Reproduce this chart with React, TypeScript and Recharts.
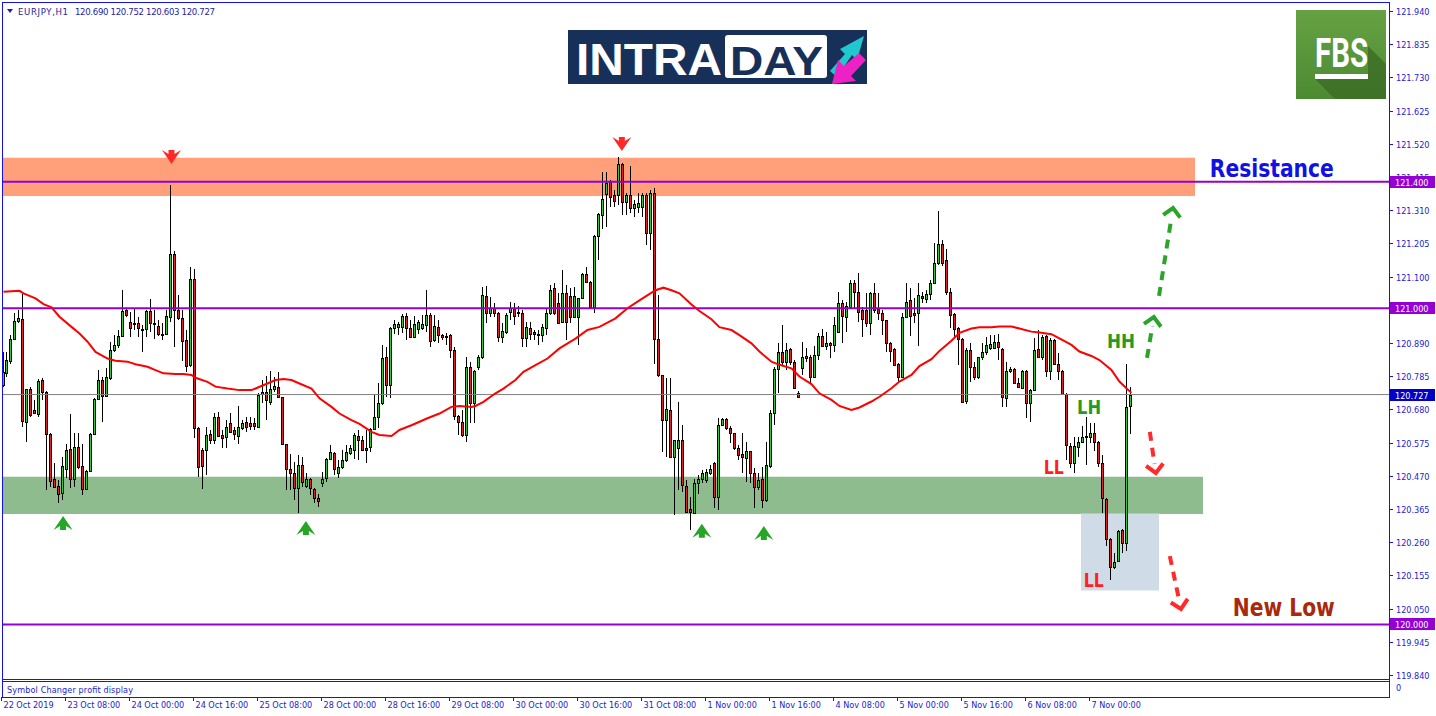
import React from 'react';
import {
  ComposedChart, Bar, Line, XAxis, YAxis,
  ReferenceLine, ReferenceArea, ReferenceDot,
} from 'recharts';

// EURJPY H1 bars, 22 Oct 16:00 .. 7 Nov 10:00 (bar index 0..282)
const opens = [
  120.757, 120.796, 120.834, 120.904, 120.959, 120.965, 120.641, 120.744, 120.678, 120.667,
  120.773, 120.734, 120.602, 120.459, 120.438, 120.416, 120.493, 120.554, 120.459, 120.560,
  120.501, 120.427, 120.486, 120.602, 120.712, 120.773, 120.723, 120.780, 120.868, 120.883,
  120.913, 120.994, 120.955, 120.954, 120.954, 120.934, 120.933, 120.991, 120.952, 120.945,
  120.920, 120.920, 120.973, 121.170, 120.994, 120.968, 120.901, 120.820, 121.091, 120.620,
  120.551, 120.553, 120.601, 120.583, 120.655, 120.599, 120.594, 120.638, 120.615, 120.597,
  120.622, 120.641, 120.636, 120.636, 120.625, 120.734, 120.734, 120.704, 120.743, 120.752,
  120.718, 120.572, 120.493, 120.480, 120.433, 120.504, 120.438, 120.459, 120.427, 120.399,
  120.446, 120.462, 120.522, 120.543, 120.478, 120.497, 120.520, 120.543, 120.553, 120.596,
  120.583, 120.557, 120.560, 120.617, 120.655, 120.699, 120.846, 120.757, 120.936, 120.941,
  120.941, 120.975, 120.936, 120.910, 120.933, 120.936, 120.947, 120.978, 120.899, 120.941,
  120.915, 120.913, 120.915, 120.868, 120.659, 120.641, 120.599, 120.813, 120.699, 120.815,
  120.846, 121.039, 120.986, 121.000, 120.986, 120.910, 120.926, 120.989, 120.996, 120.989,
  120.986, 120.907, 120.939, 120.926, 120.920, 120.915, 120.939, 120.984, 121.063, 121.015,
  120.957, 121.049, 121.039, 120.971, 120.973, 121.033, 121.108, 121.084, 121.005, 121.228,
  121.294, 121.360, 121.400, 121.358, 121.358, 121.456, 121.337, 121.358, 121.316, 121.319,
  121.319, 121.358, 121.237, 121.365, 120.904, 120.789, 120.646, 120.678, 120.530, 120.557,
  120.583, 120.438, 120.364, 120.353, 120.446, 120.459, 120.457, 120.480, 120.509, 120.402,
  120.631, 120.649, 120.620, 120.605, 120.557, 120.539, 120.525, 120.547, 120.478, 120.436,
  120.459, 120.392, 120.501, 120.668, 120.807, 120.863, 120.831, 120.870, 120.831, 120.733,
  120.810, 120.842, 120.847, 120.781, 120.852, 120.912, 120.881, 120.889, 120.884, 120.926,
  121.016, 120.973, 121.005, 121.079, 121.052, 120.994, 120.994, 120.952, 121.047, 120.997,
  120.984, 120.963, 120.889, 120.870, 120.823, 120.784, 120.971, 121.026, 120.984, 120.984,
  121.039, 121.029, 121.044, 121.079, 121.142, 121.203, 121.153, 121.052, 120.981, 120.936,
  120.902, 120.708, 120.868, 120.813, 120.784, 120.845, 120.860, 120.873, 120.875, 120.892,
  120.871, 120.715, 120.800, 120.808, 120.765, 120.747, 120.800, 120.701, 120.741, 120.870,
  120.847, 120.912, 120.800, 120.900, 120.824, 120.800, 120.729, 120.565, 120.512, 120.562,
  120.576, 120.592, 120.592, 120.605, 120.576, 120.512, 120.396, 120.269, 120.181, 120.202,
  120.299, 120.259, 120.690,
];

const highs = [
  120.862, 120.862, 120.915, 120.984, 120.994, 121.044, 120.746, 120.750, 120.710, 120.775,
  120.778, 120.739, 120.604, 120.512, 120.457, 120.530, 120.572, 120.667, 120.604, 120.606,
  120.572, 120.488, 120.604, 120.715, 120.806, 120.783, 120.810, 120.894, 120.915, 120.931,
  121.057, 121.000, 120.989, 120.996, 120.973, 120.947, 120.994, 121.029, 120.994, 120.962,
  120.952, 120.994, 121.389, 121.181, 121.042, 120.994, 120.931, 121.131, 121.123, 120.625,
  120.557, 120.625, 120.615, 120.669, 120.673, 120.615, 120.646, 120.669, 120.625, 120.691,
  120.646, 120.657, 120.657, 120.652, 120.731, 120.773, 120.785, 120.802, 120.783, 120.799,
  120.718, 120.572, 120.539, 120.514, 120.536, 120.530, 120.478, 120.462, 120.430, 120.414,
  120.483, 120.525, 120.567, 120.546, 120.520, 120.551, 120.567, 120.567, 120.604, 120.615,
  120.596, 120.615, 120.620, 120.725, 120.762, 120.883, 120.878, 120.941, 120.962, 120.957,
  120.981, 120.986, 120.962, 120.975, 120.962, 120.978, 121.059, 120.984, 120.978, 120.962,
  120.920, 120.922, 120.920, 120.876, 120.662, 120.678, 120.847, 120.830, 120.804, 120.852,
  121.068, 121.070, 121.036, 121.015, 120.989, 120.952, 120.984, 121.020, 121.015, 121.007,
  120.994, 120.957, 120.957, 120.931, 120.931, 120.950, 120.996, 121.073, 121.080, 121.047,
  121.121, 121.073, 121.063, 121.068, 121.033, 121.112, 121.131, 121.086, 121.231, 121.300,
  121.431, 121.431, 121.405, 121.374, 121.477, 121.460, 121.363, 121.449, 121.342, 121.363,
  121.363, 121.363, 121.374, 121.379, 121.042, 120.789, 120.778, 120.778, 120.583, 120.704,
  120.630, 120.457, 120.404, 120.459, 120.472, 120.488, 120.493, 120.504, 120.514, 120.652,
  120.652, 120.652, 120.626, 120.605, 120.568, 120.605, 120.578, 120.547, 120.494, 120.478,
  120.499, 120.578, 120.678, 120.815, 120.889, 120.947, 120.889, 120.873, 120.836, 120.739,
  120.894, 120.873, 120.852, 120.881, 120.921, 120.933, 120.926, 120.894, 120.973, 121.052,
  121.026, 121.021, 121.089, 121.089, 121.110, 121.005, 121.049, 121.052, 121.081, 121.047,
  120.994, 120.963, 120.894, 120.873, 120.826, 120.984, 121.079, 121.063, 121.031, 121.079,
  121.052, 121.058, 121.089, 121.205, 121.307, 121.216, 121.186, 121.063, 120.986, 120.942,
  120.905, 120.873, 120.889, 120.831, 120.847, 120.891, 120.910, 120.915, 120.915, 120.918,
  120.873, 120.831, 120.815, 120.810, 120.778, 120.805, 120.805, 120.744, 120.905, 120.931,
  120.915, 120.915, 120.905, 120.902, 120.857, 120.805, 120.731, 120.573, 120.594, 120.594,
  120.629, 120.655, 120.636, 120.636, 120.581, 120.536, 120.399, 120.273, 120.225, 120.299,
  120.301, 120.824, 120.752,
];

const lows = [
  120.750, 120.783, 120.825, 120.899, 120.952, 120.625, 120.578, 120.657, 120.667, 120.657,
  120.710, 120.425, 120.435, 120.430, 120.385, 120.395, 120.462, 120.430, 120.435, 120.493,
  120.409, 120.425, 120.483, 120.599, 120.710, 120.641, 120.720, 120.773, 120.862, 120.873,
  120.910, 120.973, 120.910, 120.931, 120.910, 120.862, 120.910, 120.926, 120.904, 120.912,
  120.899, 120.915, 120.957, 120.878, 120.962, 120.834, 120.799, 120.815, 120.588, 120.467,
  120.427, 120.472, 120.572, 120.572, 120.594, 120.557, 120.557, 120.604, 120.583, 120.572,
  120.615, 120.609, 120.615, 120.615, 120.620, 120.699, 120.646, 120.694, 120.736, 120.715,
  120.567, 120.425, 120.425, 120.393, 120.351, 120.435, 120.433, 120.409, 120.383, 120.370,
  120.435, 120.451, 120.520, 120.472, 120.462, 120.490, 120.514, 120.536, 120.522, 120.520,
  120.553, 120.509, 120.546, 120.615, 120.620, 120.694, 120.720, 120.715, 120.920, 120.915,
  120.922, 120.899, 120.910, 120.908, 120.920, 120.931, 120.926, 120.876, 120.894, 120.889,
  120.899, 120.883, 120.844, 120.646, 120.599, 120.594, 120.578, 120.636, 120.636, 120.804,
  120.841, 120.952, 120.973, 120.973, 120.894, 120.891, 120.920, 120.962, 120.946, 120.973,
  120.878, 120.878, 120.899, 120.899, 120.883, 120.894, 120.915, 120.978, 120.978, 120.954,
  120.954, 120.899, 120.952, 120.968, 120.883, 121.031, 121.080, 121.000, 120.986, 121.152,
  121.252, 121.258, 121.321, 121.321, 121.326, 121.294, 121.294, 121.300, 121.289, 121.300,
  121.289, 121.200, 121.184, 120.825, 120.783, 120.546, 120.530, 120.525, 120.346, 120.425,
  120.420, 120.356, 120.298, 120.349, 120.414, 120.446, 120.446, 120.472, 120.367, 120.362,
  120.626, 120.615, 120.573, 120.552, 120.520, 120.478, 120.452, 120.446, 120.367, 120.425,
  120.367, 120.388, 120.494, 120.631, 120.731, 120.821, 120.805, 120.821, 120.743, 120.720,
  120.789, 120.831, 120.763, 120.778, 120.836, 120.879, 120.868, 120.842, 120.863, 120.923,
  120.889, 120.926, 121.000, 121.000, 120.958, 120.910, 120.942, 120.915, 120.984, 120.963,
  120.915, 120.863, 120.831, 120.821, 120.768, 120.781, 120.968, 120.912, 120.952, 120.881,
  121.016, 121.016, 121.026, 121.077, 121.137, 121.134, 121.042, 120.937, 120.905, 120.821,
  120.702, 120.697, 120.768, 120.773, 120.775, 120.836, 120.852, 120.868, 120.873, 120.836,
  120.689, 120.689, 120.794, 120.760, 120.747, 120.744, 120.652, 120.641, 120.739, 120.847,
  120.836, 120.784, 120.773, 120.820, 120.773, 120.726, 120.520, 120.494, 120.480, 120.531,
  120.573, 120.504, 120.573, 120.547, 120.499, 120.351, 120.248, 120.141, 120.174, 120.199,
  120.227, 120.233, 120.603,
];

const closes = [
  120.799, 120.836, 120.904, 120.959, 120.968, 120.644, 120.746, 120.662, 120.670, 120.771,
  120.734, 120.603, 120.454, 120.435, 120.414, 120.501, 120.551, 120.459, 120.560, 120.499,
  120.427, 120.486, 120.602, 120.712, 120.773, 120.723, 120.783, 120.868, 120.883, 120.912,
  120.991, 120.980, 120.938, 120.950, 120.936, 120.931, 120.991, 120.952, 120.949, 120.917,
  120.917, 120.975, 121.170, 120.994, 120.968, 120.897, 120.817, 121.091, 120.620, 120.499,
  120.501, 120.599, 120.583, 120.657, 120.596, 120.591, 120.625, 120.609, 120.601, 120.623,
  120.638, 120.625, 120.629, 120.629, 120.727, 120.728, 120.710, 120.743, 120.754, 120.718,
  120.570, 120.493, 120.478, 120.433, 120.504, 120.451, 120.459, 120.430, 120.399, 120.391,
  120.459, 120.522, 120.544, 120.493, 120.497, 120.520, 120.544, 120.557, 120.599, 120.583,
  120.553, 120.553, 120.617, 120.655, 120.699, 120.844, 120.757, 120.936, 120.950, 120.950,
  120.976, 120.936, 120.910, 120.950, 120.957, 120.950, 120.978, 120.897, 120.943, 120.915,
  120.910, 120.910, 120.868, 120.659, 120.641, 120.599, 120.813, 120.699, 120.802, 120.846,
  121.042, 120.984, 121.000, 120.986, 120.910, 120.928, 120.978, 121.000, 120.976, 120.984,
  120.907, 120.941, 120.920, 120.920, 120.915, 120.941, 120.984, 121.059, 120.984, 120.954,
  121.047, 120.957, 120.973, 121.039, 121.033, 121.108, 121.084, 121.003, 121.228, 121.297,
  121.344, 121.397, 121.352, 121.340, 121.456, 121.337, 121.358, 121.316, 121.331, 121.333,
  121.358, 121.237, 121.365, 120.904, 120.789, 120.646, 120.680, 120.530, 120.583, 120.583,
  120.441, 120.356, 120.356, 120.446, 120.459, 120.478, 120.483, 120.493, 120.404, 120.631,
  120.649, 120.620, 120.605, 120.557, 120.536, 120.531, 120.547, 120.478, 120.436, 120.457,
  120.392, 120.504, 120.668, 120.807, 120.863, 120.831, 120.868, 120.831, 120.747, 120.720,
  120.847, 120.849, 120.781, 120.852, 120.912, 120.882, 120.889, 120.884, 120.947, 121.018,
  120.975, 121.007, 121.079, 121.050, 120.989, 120.965, 120.954, 121.047, 120.994, 120.986,
  120.963, 120.889, 120.865, 120.821, 120.784, 120.971, 121.021, 120.975, 120.979, 121.042,
  121.031, 121.044, 121.079, 121.142, 121.203, 121.142, 121.052, 120.979, 120.934, 120.902,
  120.705, 120.868, 120.813, 120.784, 120.847, 120.861, 120.884, 120.886, 120.894, 120.876,
  120.720, 120.801, 120.807, 120.763, 120.750, 120.802, 120.701, 120.741, 120.868, 120.847,
  120.910, 120.803, 120.900, 120.824, 120.800, 120.729, 120.568, 120.512, 120.565, 120.576,
  120.594, 120.596, 120.605, 120.576, 120.512, 120.399, 120.269, 120.181, 120.199, 120.297,
  120.259, 120.689, 120.727,
];

// moving average (red) at these bars
const maBars = [
  0, 4, 5, 8, 10, 12, 14, 17, 19, 21, 23, 26, 28, 31, 33, 36, 38, 40, 43, 45,
  47, 48, 51, 53, 56, 59, 62, 63, 66, 68, 70, 72, 74, 77, 79, 82, 84, 87, 89, 92,
  94, 97, 99, 102, 106, 109, 112, 114, 117, 118, 120, 123, 125, 128, 130, 133, 136, 139, 143, 146,
  149, 153, 156, 159, 163, 165, 167, 169, 172, 174, 177, 179, 182, 184, 187, 189, 192, 194, 197, 199,
  202, 204, 207, 209, 212, 214, 217, 219, 222, 224, 227, 229, 232, 234, 237, 239, 242, 244, 247, 249,
  252, 254, 257, 259, 262, 264, 267, 269, 272, 274, 277, 279, 281, 282,
];
const maLevels = [
  121.052, 121.055, 121.047, 121.031, 121.013, 121.003, 120.973, 120.941, 120.920, 120.894,
  120.862, 120.841, 120.834, 120.831, 120.823, 120.815, 120.804, 120.794, 120.792, 120.792,
  120.789, 120.780, 120.767, 120.752, 120.746, 120.741, 120.741, 120.746, 120.762, 120.773,
  120.776, 120.773, 120.762, 120.746, 120.715, 120.688, 120.667, 120.646, 120.634, 120.609,
  120.599, 120.596, 120.615, 120.630, 120.652, 120.667, 120.688, 120.691, 120.688, 120.691,
  120.704, 120.731, 120.746, 120.773, 120.799, 120.820, 120.841, 120.873, 120.904, 120.931,
  120.941, 120.968, 121.000, 121.025, 121.057, 121.065, 121.057, 121.047, 121.012, 120.991,
  120.965, 120.940, 120.931, 120.915, 120.889, 120.863, 120.831, 120.821, 120.810, 120.784,
  120.760, 120.731, 120.710, 120.691, 120.678, 120.686, 120.705, 120.720, 120.747, 120.768,
  120.789, 120.817, 120.839, 120.865, 120.897, 120.922, 120.936, 120.940, 120.940, 120.942,
  120.942, 120.936, 120.926, 120.923, 120.918, 120.905, 120.884, 120.863, 120.849, 120.836,
  120.805, 120.768, 120.744, 120.733,
];

const timeTickBars = [0, 16, 32, 48, 64, 80, 96, 112, 128, 144, 160, 176, 192, 208, 224, 240, 256, 272];
const timeTickLabels = [
  '22 Oct 2019', '23 Oct 08:00', '24 Oct 00:00', '24 Oct 16:00', '25 Oct 08:00', '28 Oct 00:00',
  '28 Oct 16:00', '29 Oct 08:00', '30 Oct 00:00', '30 Oct 16:00', '31 Oct 08:00', '1 Nov 00:00',
  '1 Nov 16:00', '4 Nov 08:00', '5 Nov 00:00', '5 Nov 16:00', '6 Nov 08:00', '7 Nov 00:00',
];

const priceTicks = [
  121.94, 121.835, 121.73, 121.625, 121.52, 121.415, 121.31, 121.205, 121.1, 120.995, 120.89,
  120.785, 120.68, 120.575, 120.47, 120.365, 120.26, 120.155, 120.05, 119.945, 119.84,
];
const levelPrices = [121.4, 121.0, 120.0];
const lastPrice = 120.727;

const resistanceZone = [121.355, 121.476];
const supportZone = [120.349, 120.467];
const breakBox = [120.107, 120.351];

const upMarkBars = [14.9, 75.6, 174.6, 190.1];
const upMarkPrices = [120.321, 120.305, 120.296, 120.289];
const downMarkBars = [42, 154.6];
const downMarkPrices = [121.478, 121.519];

const X_MIN = -0.125;
const X_MAX = 346.4;
const Y_MIN = 119.8274;
const Y_MAX = 121.9653;

const FRAME = '#1212ee';
const AXIS_TEXT = '#1c1cd0';
const AXIS_FONT = "'DejaVu Sans Condensed', 'DejaVu Sans', sans-serif";
const NOTE_FONT = "'DejaVu Sans', sans-serif";
const BULL = '#2fcd2f';
const BEAR = '#e52222';
const PURPLE = '#9400d3';
const GREEN_NOTE = '#239c23';
const RED_NOTE = '#ff1f1f';

const maByBar = new Map(maBars.map((b, k) => [b, maLevels[k]]));
const rows = opens.map((open, i) => ({
  bar: i,
  open,
  high: highs[i],
  low: lows[i],
  close: closes[i],
  ma: maByBar.has(i) ? maByBar.get(i) : null,
}));

const notes = [
  { text: 'Resistance', bar: 317.1, price: 121.443, color: '#1111e6', size: 24, width: 124 },
  { text: 'New Low', bar: 320.1, price: 120.055, color: '#a8290c', size: 24, width: 102 },
  { text: 'HH', bar: 279.4, price: 120.896, color: GREEN_NOTE, size: 20, width: 28 },
  { text: 'LH', bar: 271.4, price: 120.688, color: GREEN_NOTE, size: 20, width: 24 },
  { text: 'LL', bar: 262.6, price: 120.498, color: RED_NOTE, size: 20, width: 20 },
  { text: 'LL', bar: 272.6, price: 120.141, color: RED_NOTE, size: 20, width: 20 },
];

const dashedArrows = [
  { from: [288.9, 121.039], to: [292.4, 121.317], color: '#2aa52a' },
  { from: [285.9, 120.843], to: [287.6, 120.972], color: '#2aa52a' },
  { from: [286.6, 120.609], to: [288.1, 120.479], color: '#ff2a2a' },
  { from: [291.6, 120.216], to: [294.4, 120.049], color: '#ff2a2a' },
];

const renderCandle = (props: any) => {
  const { x, y, width, height, payload } = props;
  if (!payload || !Number.isFinite(x) || !Number.isFinite(y)) return <g />;
  const { open, close, high, low } = payload;
  const perUnit = high > low ? height / (high - low) : 0;
  const yAt = (v: number) => y + (high - v) * perUnit;
  const cx = Math.floor(x + width / 2);
  const top = Math.round(yAt(Math.max(open, close)));
  const bottom = Math.max(top + 1, Math.round(yAt(Math.min(open, close))));
  const wickTop = Math.round(y);
  const wickBottom = Math.round(y + height);
  return (
    <g>
      <rect x={cx} y={wickTop} width={1} height={Math.max(1, wickBottom - wickTop)} fill="#000" />
      <rect x={cx - 1} y={top} width={3} height={bottom - top + 1} fill="#000" />
      {bottom - top > 1 && (
        <rect x={cx} y={top + 1} width={1} height={bottom - top - 1} fill={close >= open ? BULL : BEAR} />
      )}
    </g>
  );
};

const TimeTick = (props: any) => {
  const { x, y, payload } = props;
  const k = timeTickBars.indexOf(payload.value);
  const tx = Math.round(x) - 1.5;
  return (
    <g>
      <line x1={tx} x2={tx} y1={y + 18} y2={y + 22} stroke={FRAME} />
      <text x={tx + 2} y={y + 29} fill={AXIS_TEXT} fontSize={9} fontFamily={AXIS_FONT}>
        {timeTickLabels[k]}
      </text>
    </g>
  );
};

const PriceTick = (props: any) => {
  const { x, y, payload } = props;
  const v: number = payload.value;
  const cy = Math.round(y);
  const label = v.toFixed(3);
  const tag = levelPrices.includes(v) ? PURPLE : v === lastPrice ? '#0000c8' : null;
  if (tag) {
    return (
      <g>
        <rect x={x + 1} y={cy - 6} width={45} height={12} fill={tag} />
        <text x={x + 6} y={cy + 3.5} fill="#fff" fontSize={9} fontFamily={AXIS_FONT}>{label}</text>
      </g>
    );
  }
  return (
    <g>
      <line x1={x} x2={x + 4} y1={cy + 0.5} y2={cy + 0.5} stroke={FRAME} />
      <text x={x + 7} y={cy + 3.5} fill={AXIS_TEXT} fontSize={9} fontFamily={AXIS_FONT}>{label}</text>
    </g>
  );
};

const DownMark = (props: any) => {
  const { cx, cy } = props;
  const pts = [[-9.5, -7], [-3, -3], [-3, -7], [3, -7], [3, -3], [9.5, -7], [0, 7]];
  return <polygon points={pts.map(([a, b]) => `${cx + a},${cy + b}`).join(' ')} fill="#ff2828" />;
};

const UpMark = (props: any) => {
  const { cx, cy } = props;
  const pts = [[-9.5, 7], [-3, 3], [-3, 7], [3, 7], [3, 3], [9.5, 7], [0, -7]];
  return <polygon points={pts.map(([a, b]) => `${cx + a},${cy + b}`).join(' ')} fill="#26a526" />;
};

const noteShape = (n: typeof notes[number]) => (props: any) => (
  <text
    x={props.cx}
    y={props.cy + n.size * 0.36}
    textAnchor="middle"
    fill={n.color}
    fontSize={n.size}
    fontWeight="bold"
    fontFamily={NOTE_FONT}
    textLength={n.width}
    lengthAdjust="spacingAndGlyphs"
  >
    {n.text}
  </text>
);

const arrowShape = (color: string) => (props: any) => {
  const { x1, y1, x2, y2 } = props;
  const ang = Math.atan2(y2 - y1, x2 - x1);
  const wing = 12;
  const spread = 0.8;
  const ax = x2 - wing * Math.cos(ang - spread);
  const ay = y2 - wing * Math.sin(ang - spread);
  const bx = x2 - wing * Math.cos(ang + spread);
  const by = y2 - wing * Math.sin(ang + spread);
  const ex = x2 - 9 * Math.cos(ang);
  const ey = y2 - 9 * Math.sin(ang);
  return (
    <g>
      <line x1={x1} y1={y1} x2={ex} y2={ey} stroke={color} strokeWidth={4} strokeDasharray="9 7" />
      <polyline points={`${ax},${ay} ${x2},${y2} ${bx},${by}`} fill="none" stroke={color} strokeWidth={4} />
    </g>
  );
};

const Overlay: React.FC = () => (
  <svg width={1436} height={716} style={{ position: 'absolute', left: 0, top: 0, pointerEvents: 'none' }}>
    {/* panel frames */}
    <line x1={2.5} y1={2} x2={2.5} y2={698} stroke={FRAME} />
    <line x1={2} y1={2.5} x2={1390} y2={2.5} stroke={FRAME} />
    <line x1={1389.5} y1={2} x2={1389.5} y2={698} stroke={FRAME} />
    <line x1={2} y1={679.5} x2={1390} y2={679.5} stroke={FRAME} />
    <line x1={2} y1={681.5} x2={1390} y2={681.5} stroke={FRAME} />
    <line x1={2} y1={697.5} x2={1390} y2={697.5} stroke={FRAME} />
    <text x={7} y={693} fill={AXIS_TEXT} fontSize={9} fontFamily={AXIS_FONT} textLength={126}>
      Symbol Changer profit display
    </text>
    <text x={1396} y={691} fill={AXIS_TEXT} fontSize={9} fontFamily={AXIS_FONT}>0</text>

    {/* title */}
    <polygon points="7,9 13,9 10,13" fill="#1c1ca8" />
    <text x={18} y={14.5} fill="#1c1ca8" fontSize={9.5} fontFamily={AXIS_FONT} textLength={50}>EURJPY,H1</text>
    <text x={75} y={14.5} fill="#1c1ca8" fontSize={9.5} fontFamily={AXIS_FONT} textLength={140}>
      120.690 120.752 120.603 120.727
    </text>

    {/* INTRADAY banner */}
    <rect x={568} y={30} width={299} height={54} fill="#17305a" />
    <text x={576} y={75} fill="#fff" fontSize={44} fontWeight="bold" fontFamily="'Liberation Sans', Arial, sans-serif"
      textLength={146} lengthAdjust="spacingAndGlyphs">INTRA</text>
    <rect x={725} y={35} width={102} height={43} rx={3} fill="#fff" />
    <text x={730} y={75} fill="#17305a" fontSize={40} fontWeight="bold" fontFamily="'Liberation Sans', Arial, sans-serif"
      textLength={93} lengthAdjust="spacingAndGlyphs">DAY</text>
    <polygon points="830,71 845,54 840,49 864,36 857,60 852,55 837,77" fill="#22c6cf" />
    <polygon points="866,60 851,76 856,81 832,84 838,60 844,66 859,53" fill="#ee22c4" />

    {/* FBS badge */}
    <defs>
      <linearGradient id="fbsGreen" x1="0" y1="0" x2="0" y2="1">
        <stop offset="0" stopColor="#66a244" />
        <stop offset="1" stopColor="#4c8a31" />
      </linearGradient>
    </defs>
    <rect x={1296} y={10} width={90} height={89} fill="url(#fbsGreen)" />
    <polygon points="1315,79 1335,99 1386,99 1386,64 1368,46 1368,79" fill="#3a6a24" opacity={0.75} />
    <text x={1315} y={67} fill="#fff" fontSize={40} fontWeight="bold" fontFamily="Roboto, 'Liberation Sans', sans-serif"
      textLength={53} lengthAdjust="spacingAndGlyphs">FBS</text>
    <rect x={1315} y={74} width={53} height={5} fill="#fff" />
  </svg>
);

const App: React.FC = () => {
  return (
    <div style={{ position: 'absolute', left: 0, top: 0, width: 1436, height: 716, background: '#fff' }}>
      <ComposedChart width={1436} height={716} data={rows} margin={{ top: 3, right: 0, bottom: 0, left: 3 }}>
        <XAxis
          dataKey="bar"
          type="number"
          domain={[X_MIN, X_MAX]}
          allowDataOverflow
          ticks={timeTickBars}
          interval={0}
          tick={(p: any) => <TimeTick {...p} />}
          tickLine={false}
          axisLine={false}
          tickSize={0}
          tickMargin={0}
          height={37}
        />
        <YAxis
          orientation="right"
          type="number"
          domain={[Y_MIN, Y_MAX]}
          allowDataOverflow
          ticks={[...priceTicks, ...levelPrices, lastPrice]}
          interval={0}
          tick={(p: any) => <PriceTick {...p} />}
          tickLine={false}
          axisLine={false}
          tickSize={0}
          tickMargin={0}
          width={47}
        />

        <ReferenceArea x1={X_MIN} x2={297.9} y1={resistanceZone[0]} y2={resistanceZone[1]} fill="#ffa07a" fillOpacity={1} stroke="none" />
        <ReferenceArea x1={X_MIN} x2={299.9} y1={supportZone[0]} y2={supportZone[1]} fill="#8fbc8f" fillOpacity={1} stroke="none" />
        <ReferenceArea x1={269.4} x2={288.9} y1={breakBox[0]} y2={breakBox[1]} fill="#cfdbe7" fillOpacity={1} stroke="none" />

        <ReferenceLine y={lastPrice} stroke="#808080" strokeWidth={1} />
        {levelPrices.map((p) => (
          <ReferenceLine key={p} y={p} stroke={PURPLE} strokeWidth={2} />
        ))}

        <Bar dataKey={(d: any) => [d.low, d.high]} barSize={3} shape={renderCandle} isAnimationActive={false} />
        <Line dataKey="ma" type="linear" stroke="#ff0000" strokeWidth={2} dot={false} activeDot={false}
          connectNulls isAnimationActive={false} />

        {downMarkBars.map((b, k) => (
          <ReferenceDot key={`d${k}`} x={b} y={downMarkPrices[k]} r={8} shape={DownMark} ifOverflow="visible" />
        ))}
        {upMarkBars.map((b, k) => (
          <ReferenceDot key={`u${k}`} x={b} y={upMarkPrices[k]} r={8} shape={UpMark} ifOverflow="visible" />
        ))}
        {dashedArrows.map((a, k) => (
          <ReferenceLine
            key={`a${k}`}
            segment={[{ x: a.from[0], y: a.from[1] }, { x: a.to[0], y: a.to[1] }]}
            shape={arrowShape(a.color)}
            ifOverflow="visible"
          />
        ))}
        {notes.map((n, k) => (
          <ReferenceDot key={`n${k}`} x={n.bar} y={n.price} r={1} shape={noteShape(n)} ifOverflow="visible" />
        ))}
      </ComposedChart>
      <Overlay />
    </div>
  );
};

export default App;
